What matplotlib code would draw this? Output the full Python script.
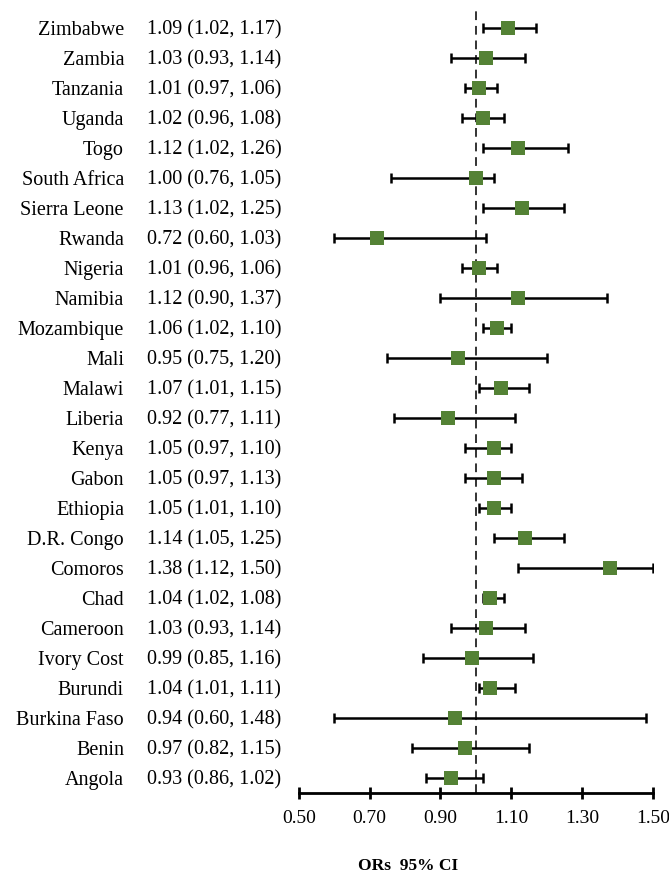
import matplotlib
matplotlib.use("Agg")
import matplotlib.pyplot as plt
import matplotlib.transforms as mtransforms

plt.rcParams['font.family'] = ['Liberation Serif', 'DejaVu Serif']

countries = ["Zimbabwe", "Zambia", "Tanzania", "Uganda", "Togo", "South Africa",
             "Sierra Leone", "Rwanda", "Nigeria", "Namibia", "Mozambique", "Mali",
             "Malawi", "Liberia", "Kenya", "Gabon", "Ethiopia", "D.R. Congo",
             "Comoros", "Chad", "Cameroon", "Ivory Cost", "Burundi", "Burkina Faso",
             "Benin", "Angola"]
ors = [1.09, 1.03, 1.01, 1.02, 1.12, 1.00, 1.13, 0.72, 1.01, 1.12, 1.06, 0.95,
       1.07, 0.92, 1.05, 1.05, 1.05, 1.14, 1.38, 1.04, 1.03, 0.99, 1.04, 0.94,
       0.97, 0.93]
lower = [1.02, 0.93, 0.97, 0.96, 1.02, 0.76, 1.02, 0.60, 0.96, 0.90, 1.02, 0.75,
         1.01, 0.77, 0.97, 0.97, 1.01, 1.05, 1.12, 1.02, 0.93, 0.85, 1.01, 0.60,
         0.82, 0.86]
upper = [1.17, 1.14, 1.06, 1.08, 1.26, 1.05, 1.25, 1.03, 1.06, 1.37, 1.10, 1.20,
         1.15, 1.11, 1.10, 1.13, 1.10, 1.25, 1.50, 1.08, 1.14, 1.16, 1.11, 1.48,
         1.15, 1.02]
xticks = [0.50, 0.70, 0.90, 1.10, 1.30, 1.50]
xlabel = "ORs  95% CI"

W, H = 669, 876
fig = plt.figure(figsize=(W / 100, H / 100), dpi=100)
ax = fig.add_axes([298.7 / W, 1 - 793 / H, (653 - 298.7) / W, (793 - 8) / H])

n = len(countries)
ys = [n - 1 - i for i in range(n)]
xerr = [[o - l for o, l in zip(ors, lower)], [u - o for o, u in zip(ors, upper)]]

ax.axvline(1.0, color='#333333', lw=1.4, ls=(0, (4.5, 3)), zorder=1)
ax.errorbar(ors, ys, xerr=xerr, fmt='none', ecolor='black', elinewidth=1.8,
            capsize=3.5, capthick=1.8, zorder=2)
ax.plot(ors, ys, 's', color='#548235', markersize=9.5, markeredgewidth=0, zorder=3)

ax.set_xlim(0.50, 1.50)
ax.set_ylim(-0.5, n - 1 + 0.67)
ax.set_xticks(xticks)
ax.set_xticklabels([f"{t:.2f}" for t in xticks], fontsize=14)
ax.set_yticks([])
for s in ['left', 'right', 'top']:
    ax.spines[s].set_visible(False)
ax.spines['bottom'].set_linewidth(2)
ax.tick_params(axis='x', direction='inout', length=9, width=2, pad=8)

trans = mtransforms.blended_transform_factory(fig.transFigure, ax.transData)
trans = mtransforms.offset_copy(trans, fig=fig, x=0, y=-6.5, units='dots')
for c, o, l, u, y in zip(countries, ors, lower, upper, ys):
    fig.text(124 / W, y, c, transform=trans, ha='right', va='baseline', fontsize=14.5)
    fig.text(147 / W, y, f"{o:.2f} ({l:.2f}, {u:.2f})", transform=trans,
             ha='left', va='baseline', fontsize=14.5)

fig.text(408 / W, 1 - 866 / H, xlabel, ha='center', va='center', fontsize=12.5,
         fontweight='bold')

fig.savefig("out.png", dpi=100)
